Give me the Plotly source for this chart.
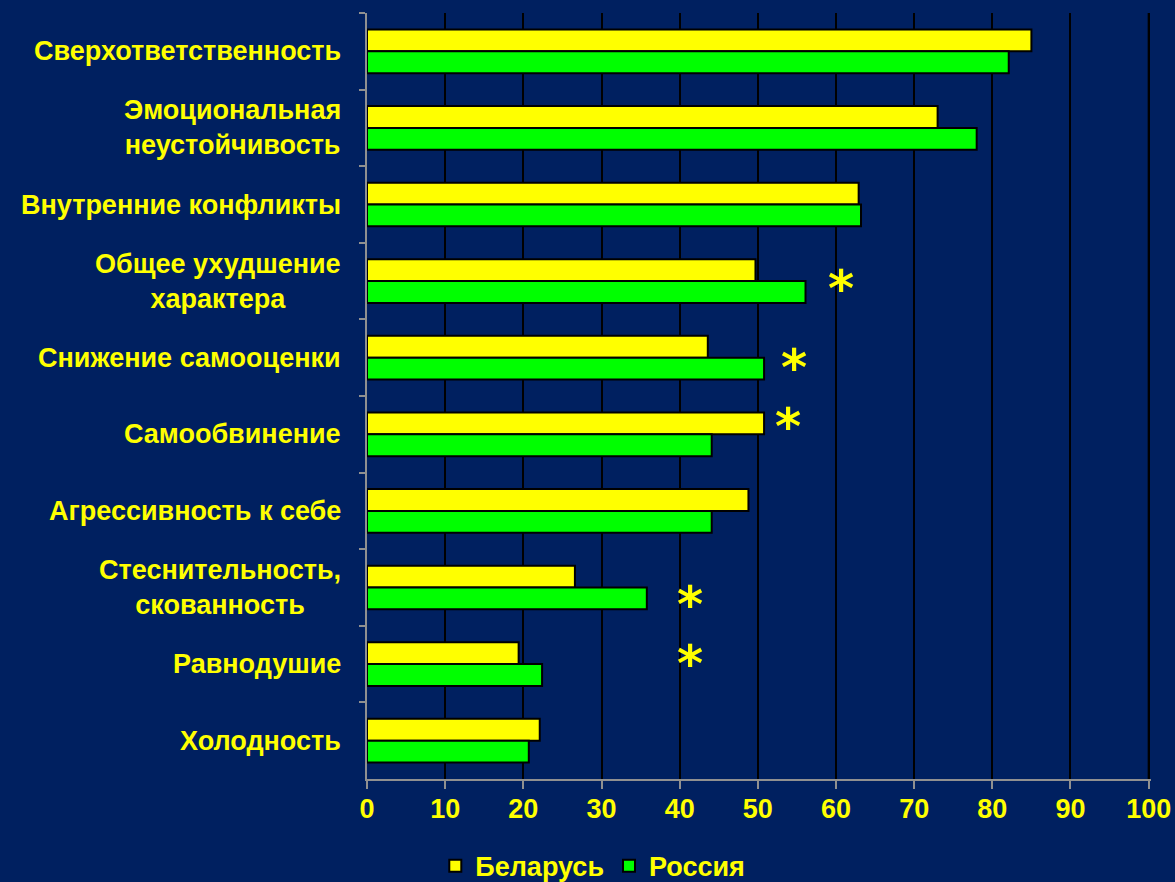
import plotly.graph_objects as go

categories = [
    "Сверхответственность",
    "Эмоциональная<br>неустойчивость",
    "Внутренние конфликты",
    "Общее ухудшение<br>характера",
    "Снижение самооценки",
    "Самообвинение",
    "Агрессивность к себе",
    "Стеснительность,<br>скованность",
    "Равнодушие",
    "Холодность",
]
belarus = [85.0, 73.0, 62.9, 49.7, 43.6, 50.8, 48.8, 26.6, 19.4, 22.1]
russia = [82.1, 78.0, 63.2, 56.1, 50.8, 44.1, 44.1, 35.8, 22.4, 20.7]

# asterisks: (category index, x value, offset within the category band)
star_index = [3, 4, 5, 7, 8]
star_x = [60.7, 54.6, 53.8, 41.3, 41.3]
star_offset = [0.0, 0.03, -0.2, 0.13, -0.1]

x_ticks = [0, 10, 20, 30, 40, 50, 60, 70, 80, 90, 100]

BG = "#002060"
YEL = "#FFFF00"
GRN = "#00FF00"
FONT = "Liberation Sans, Arial, sans-serif"

idx = list(range(len(categories)))

fig = go.Figure()
fig.add_trace(go.Bar(
    y=idx, x=belarus, orientation="h", name="<b>Беларусь</b>",
    marker=dict(color=YEL, line=dict(color="black", width=2)),
))
fig.add_trace(go.Bar(
    y=idx, x=russia, orientation="h", name="<b>Россия</b>",
    marker=dict(color=GRN, line=dict(color="black", width=2)),
))

annotations = []
for i, c in enumerate(categories):
    annotations.append(dict(
        x=0, xref="paper", xshift=-24, y=i, yref="y",
        text="<b>%s</b>" % c, showarrow=False, xanchor="right", yanchor="middle",
        align="center", font=dict(family=FONT, size=27, color=YEL),
    ))
for i, xv, off in zip(star_index, star_x, star_offset):
    annotations.append(dict(
        x=xv, xref="x", y=i + off, yref="y", yshift=4,
        text="<b>*</b>", showarrow=False, xanchor="center", yanchor="middle",
        height=34, width=34, valign="top",
        font=dict(family="DejaVu Sans", size=50, color=YEL),
    ))

fig.update_layout(
    width=1175, height=882,
    paper_bgcolor=BG, plot_bgcolor=BG,
    barmode="group", bargap=0.43, bargroupgap=0.0,
    margin=dict(l=367, r=24, t=13, b=103, autoexpand=False),
    showlegend=True,
    legend=dict(
        orientation="h", x=0.288, xanchor="center",
        yref="container", y=0.018, yanchor="middle",
        font=dict(family=FONT, size=27, color=YEL), bgcolor="rgba(0,0,0,0)",
        itemwidth=30, tracegroupgap=0,
    ),
    annotations=annotations,
    shapes=[dict(
        type="line", xref="x", yref="paper", x0=x_ticks[-1], x1=x_ticks[-1], y0=0, y1=1,
        line=dict(color="black", width=2), layer="above",
    )],
    xaxis=dict(
        range=[0, 100.3], tickvals=x_ticks, ticktext=["<b>%d</b>" % v for v in x_ticks],
        showgrid=True, gridcolor="black", gridwidth=2,
        showline=True, linecolor="#909090", linewidth=2,
        ticks="outside", ticklen=8, tickwidth=2, tickcolor="#909090",
        ticklabelstandoff=-3, automargin=False,
        tickfont=dict(family=FONT, size=27, color=YEL),
        zeroline=False, fixedrange=True,
    ),
    yaxis=dict(
        type="linear", range=[9.5, -0.5], tickvals=[i + 0.5 for i in idx[:-1]] + [-0.5],
        showticklabels=False, ticks="outside", ticklen=6, tickwidth=2, tickcolor="#909090",
        showgrid=False, showline=True, linecolor="#909090", linewidth=2,
        zeroline=False, fixedrange=True, automargin=False,
    ),
)

fig.write_html(
    "out.html",
    config={"displayModeBar": False},
    post_script="document.body.style.margin='0';document.body.style.background='%s';" % BG,
)
